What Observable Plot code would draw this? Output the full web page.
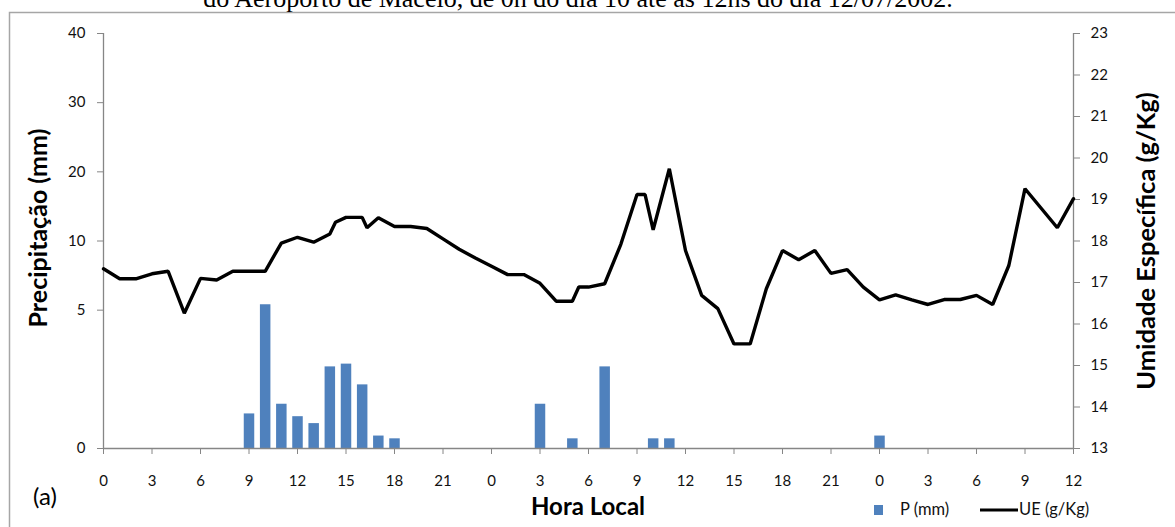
<!DOCTYPE html>
<html><head><meta charset="utf-8">
<script src="https://cdn.jsdelivr.net/npm/d3@7"></script>
<script src="https://cdn.jsdelivr.net/npm/@observablehq/plot@0.6"></script>
<style>
html,body{margin:0;padding:0;background:#fff;}
#wrap{position:relative;width:1175px;height:527px;overflow:hidden;font-family:Lato,sans-serif;}
#wrap > svg{position:absolute;left:0;top:0;}
</style></head><body><div id="wrap"></div>
<script>
// Hours since 0h of 10/07/2002
const ueHours  = [0,1,2,3,4,5,6,7,8,9,10,11,12,13,14,14.35,15,16,16.3,17,18,19,20,21,22,23,24,25,26,27,28,29,29.4,30,31,32,33,33.5,34,35,36,37,38,39,40,41,42,43,44,45,46,47,48,49,50,51,52,53,54,55,56,57,58,59,60];
const ueValues = [17.33,17.09,17.09,17.21,17.27,16.26,17.10,17.06,17.27,17.27,17.27,17.95,18.09,17.97,18.17,18.45,18.57,18.57,18.32,18.56,18.35,18.35,18.30,18.05,17.80,17.59,17.39,17.19,17.19,16.98,16.55,16.55,16.89,16.89,16.97,17.92,19.12,19.12,18.27,19.74,17.77,16.69,16.37,15.52,15.52,16.85,17.77,17.55,17.77,17.22,17.31,16.89,16.58,16.70,16.58,16.47,16.59,16.59,16.69,16.47,17.41,19.26,18.79,18.32,19.02];
const precipHours  = [9,10,11,12,13,14,15,16,17,18,27,29,31,34,35,48];
const precipValues = [1.25,5.4,1.6,1.15,0.9,2.95,3.05,2.3,0.45,0.35,1.6,0.35,2.95,0.35,0.35,0.45];
const hourTicks  = [0,3,6,9,12,15,18,21,24,27,30,33,36,39,42,45,48,51,54,57,60];
const hourLabels = ["0","3","6","9","12","15","18","21","0","3","6","9","12","15","18","21","0","3","6","9","12"];
const precipTicks = [0,5,10,20,30,40];
const ueTicks = [13,14,15,16,17,18,19,20,21,22,23];
// left axis breaks (Excel-like custom spacing: 0-5 occupies two steps)
const precipBreaks = [0,2.5,5,10,20,30,40];

const ue = ueHours.map((h,i)=>({h, v: ueValues[i]}));
const precip = precipHours.map((h,i)=>({h, p: precipValues[i]}));
const toUE = d3.scaleLinear().domain(precipBreaks)
  .range(precipBreaks.map((_,i)=>ueTicks[0] + i*(ueTicks[ueTicks.length-1]-ueTicks[0])/(precipBreaks.length-1)));

const axisGray = "#868686";
const plot = Plot.plot({
  width: 1175, height: 527,
  marginLeft: 103, marginRight: 102, marginTop: 33, marginBottom: 79,
  style: {background: "transparent", fontFamily: "Lato, sans-serif", fontSize: "15px", color: "#111"},
  x: {domain: [0,60], axis: null},
  y: {domain: [13,23], axis: null},
  marks: [
    Plot.ruleX(precip, {x: "h", y1: d => ueTicks[0], y2: d => toUE(d.p), stroke: "#4f81bd", strokeWidth: 10.5}),
    Plot.ruleX([0,60], {stroke: axisGray, strokeWidth: 1.3}),
    Plot.ruleY([13], {stroke: axisGray, strokeWidth: 1.3}),
    Plot.axisX({ticks: hourTicks, tickFormat: (d) => hourLabels[hourTicks.indexOf(d)], tickSize: 6, tickPadding: 21, stroke: axisGray, fill: "#111", label: null}),
    Plot.axisY({anchor: "left", ticks: precipTicks.map(toUE), tickFormat: d => String(Math.round(toUE.invert(d))), tickSize: 6, tickPadding: 12, stroke: axisGray, fill: "#111", label: null}),
    Plot.axisY({anchor: "right", ticks: ueTicks, tickSize: 6, tickPadding: 11, stroke: axisGray, fill: "#111", label: null}),
    Plot.line(ue, {x: "h", y: "v", stroke: "#000", strokeWidth: 3.4, strokeLinejoin: "miter"})
  ]
});
const wrap = document.getElementById("wrap");
wrap.appendChild(plot);

const NS = "http://www.w3.org/2000/svg";
const ov = document.createElementNS(NS, "svg");
ov.setAttribute("width", 1175); ov.setAttribute("height", 527);
ov.style.pointerEvents = "none";
function txt(s, x, y, attrs) {
  const t = document.createElementNS(NS, "text");
  t.textContent = s;
  t.setAttribute("x", x); t.setAttribute("y", y);
  for (const k in attrs) t.setAttribute(k, attrs[k]);
  ov.appendChild(t);
  return t;
}
const border = document.createElementNS(NS, "rect");
border.setAttribute("x", 9.5); border.setAttribute("y", 12.5);
border.setAttribute("width", 1300); border.setAttribute("height", 700);
border.setAttribute("fill", "none"); border.setAttribute("stroke", "#a6a6a6"); border.setAttribute("stroke-width", 1.5);
ov.appendChild(border);

txt("do Aeroporto de Maceió, de 0h do dia 10 até às 12hs do dia 12/07/2002.", 578, 7,
  {"text-anchor": "middle", "font-family": "Liberation Serif, serif", "font-size": 26, fill: "#000"});
txt("Precipitação (mm)", 0, 0, {"text-anchor": "middle", "font-family": "Lato, sans-serif", "font-weight": "bold", "font-size": 25, fill: "#000",
  transform: "translate(47,228) rotate(-90)"});
txt("Umidade Específica (g/Kg)", 0, 0, {"text-anchor": "middle", "font-family": "Lato, sans-serif", "font-weight": "bold", "font-size": 25.5, fill: "#000",
  transform: "translate(1155,241) rotate(-90)"});
txt("Hora Local", 588, 515, {"text-anchor": "middle", "font-family": "Lato, sans-serif", "font-weight": "bold", "font-size": 24, fill: "#000"});
txt("(a)", 33, 505, {"font-family": "Lato, sans-serif", "font-size": 24, fill: "#000"});

// legend
const sq = document.createElementNS(NS, "rect");
sq.setAttribute("x", 874); sq.setAttribute("y", 505); sq.setAttribute("width", 9); sq.setAttribute("height", 10);
sq.setAttribute("fill", "#4f81bd"); ov.appendChild(sq);
txt("P (mm)", 900, 515, {"font-family": "Lato, sans-serif", "font-size": 16.5, fill: "#111"});
const ln = document.createElementNS(NS, "line");
ln.setAttribute("x1", 980); ln.setAttribute("x2", 1018); ln.setAttribute("y1", 510); ln.setAttribute("y2", 510);
ln.setAttribute("stroke", "#000"); ln.setAttribute("stroke-width", 3); ov.appendChild(ln);
txt("UE (g/Kg)", 1019, 515, {"font-family": "Lato, sans-serif", "font-size": 16.5, fill: "#111"});
wrap.appendChild(ov);
</script>
</body></html>
